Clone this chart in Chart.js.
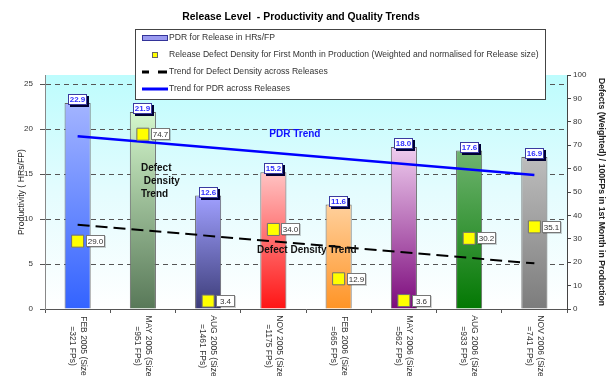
<!DOCTYPE html>
<html>
<head>
<meta charset="utf-8">
<script src="https://cdn.jsdelivr.net/npm/chart.js@4"></script>
<style>
  html, body { margin: 0; padding: 0; background: #ffffff; }
  #wrap { width: 612px; height: 376px; position: relative; }
</style>
</head>
<body>
<div id="wrap"><canvas id="chart"></canvas></div>
<script>
const FONT = "'Liberation Sans', Arial, sans-serif";

// Releases and their sizes (function points)
const releases = ['FEB 2005', 'MAY 2005', 'AUG 2005', 'NOV 2005', 'FEB 2006', 'MAY 2006', 'AUG 2006', 'NOV 2006'];
const releaseSizes = [321, 951, 1461, 1175, 665, 562, 933, 741];

// PDR per release (hours per function point) - left axis
const pdrValues = [22.9, 21.9, 12.6, 15.2, 11.6, 18.0, 17.6, 16.9];

// Defect density in first month of production - right axis
const defectDensity = [29.0, 74.7, 3.4, 34.0, 12.9, 3.6, 30.2, 35.1];

// Trend line end points (first and last release)
const pdrTrend = [19.2, null, null, null, null, null, null, 14.9];
const defectTrend = [36.0, null, null, null, null, null, null, 19.5];

// Axis ranges and tick steps
const leftAxis = { min: 0, max: 26, step: 5 };
const rightAxis = { min: 0, max: 100, step: 10 };

// Per-bar gradient colours (top -> bottom)
const barTopColors = ['#a3b4ff', '#d4f7cc', '#a0a0ff', '#ffc4c4', '#ffd09c', '#efcdef', '#70b470', '#bdbdbd'];
const barBottomColors = ['#3363ff', '#587858', '#3c3c78', '#ff1414', '#ff9426', '#7c0a7c', '#037803', '#7c7c7c'];

const chartTitle = 'Release Level  - Productivity and Quality Trends';
const legendItems = [
  'PDR for Release in HRs/FP',
  'Release Defect Density for First Month in Production (Weighted and normalised for Release size)',
  'Trend for Defect Density across Releases',
  'Trend for PDR across Releases'
];

// Free text annotations: [text lines, category position, left-axis value]
const annotations = [
  { lines: ['PDR Trend'], x: 3.33, y: 19.4, color: '#1010ff', align: 'center' },
  { lines: ['Defect', ' Density', 'Trend'], x: 0.97, y: 15.6, color: '#111111', align: 'left' },
  { lines: ['Defect Density Trend'], x: 2.75, y: 6.5, color: '#111111', align: 'left' }
];

const categoryLabels = releases.map((r, i) => [r + ' (Size', '=' + releaseSizes[i] + ' FPs)']);

// Gradient fill for plot area
const plotBackground = {
  id: 'plotBackground',
  beforeDraw(chart) {
    const { ctx, chartArea: a } = chart;
    const g = ctx.createLinearGradient(0, a.top, 0, a.bottom);
    g.addColorStop(0, '#bdfcfd');
    g.addColorStop(0.5, '#e4fcfe');
    g.addColorStop(1, '#ffffff');
    ctx.save();
    ctx.fillStyle = g;
    ctx.fillRect(a.left, a.top, a.width, a.height);
    ctx.restore();
  }
};

// Value boxes for bars and defect markers, plus text annotations
const valueLabels = {
  id: 'valueLabels',
  afterDatasetsDraw(chart) {
    const { ctx, scales } = chart;
    ctx.save();
    // bar value boxes
    const bars = chart.getDatasetMeta(0).data;
    ctx.font = `bold 8px ${FONT}`;
    ctx.textAlign = 'center';
    ctx.textBaseline = 'middle';
    bars.forEach((bar, i) => {
      const w = 19, h = 11;
      const x = Math.round(bar.x - w / 2), y = Math.round(bar.y - h + 2);
      ctx.fillStyle = '#000033';
      ctx.fillRect(x + 2, y + 2, w, h);
      ctx.fillStyle = '#ffffff';
      ctx.fillRect(x, y, w, h);
      ctx.strokeStyle = '#3a3aa0';
      ctx.lineWidth = 1;
      ctx.strokeRect(x + 0.5, y + 0.5, w - 1, h - 1);
      ctx.fillStyle = '#3030ff';
      ctx.fillText(pdrValues[i].toFixed(1), x + w / 2, y + h / 2 + 0.5);
    });
    // defect marker value boxes
    const pts = chart.getDatasetMeta(3).data;
    ctx.font = `8px ${FONT}`;
    pts.forEach((p, i) => {
      const w = 19, h = 12;
      const x = Math.round(p.x + 8), y = Math.round(p.y - h / 2);
      ctx.fillStyle = 'rgba(0,0,0,0.18)';
      ctx.fillRect(x + 1, y + 1, w, h);
      ctx.fillStyle = '#ffffff';
      ctx.fillRect(x, y, w, h);
      ctx.strokeStyle = '#777777';
      ctx.strokeRect(x + 0.5, y + 0.5, w - 1, h - 1);
      ctx.fillStyle = '#333333';
      ctx.fillText(defectDensity[i].toFixed(1), x + w / 2, y + h / 2 + 0.5);
    });
    // annotations
    ctx.font = `bold 10px ${FONT}`;
    annotations.forEach(a => {
      const x = scales.x.getPixelForValue(a.x);
      const y = scales.y.getPixelForValue(a.y);
      ctx.fillStyle = a.color;
      ctx.textAlign = a.align;
      a.lines.forEach((line, k) => ctx.fillText(line, x, y + k * 13));
    });
    ctx.restore();
  }
};

// Rotated two-line category labels, title and legend box
const frame = {
  id: 'frame',
  afterDraw(chart) {
    const { ctx, scales, chartArea: a } = chart;
    ctx.save();
    // category labels, reading top to bottom
    ctx.font = `8.5px ${FONT}`;
    ctx.fillStyle = '#333333';
    ctx.textAlign = 'center';
    ctx.textBaseline = 'middle';
    categoryLabels.forEach((lines, i) => {
      const x = scales.x.getPixelForValue(i);
      ctx.save();
      ctx.translate(x, a.bottom + 37);
      ctx.rotate(Math.PI / 2);
      ctx.fillText(lines[0], 0, -5.5);
      ctx.fillText(lines[1], 0, 5.5);
      ctx.restore();
    });
    // title
    ctx.font = `bold 10.4px ${FONT}`;
    ctx.fillStyle = '#000000';
    ctx.fillText(chartTitle, 301, 17);
    // legend box
    const bx = 135, by = 29, bw = 410, bh = 70;
    ctx.fillStyle = '#ffffff';
    ctx.fillRect(bx, by, bw, bh);
    ctx.strokeStyle = '#444444';
    ctx.lineWidth = 1;
    ctx.strokeRect(bx + 0.5, by + 0.5, bw, bh);
    const rowY = [38, 55, 72, 89];
    // bar swatch
    ctx.fillStyle = '#9a9af0';
    ctx.fillRect(142, rowY[0] - 2, 25, 4);
    ctx.strokeStyle = '#333399';
    ctx.strokeRect(142.5, rowY[0] - 2.5, 25, 5);
    // marker swatch
    ctx.fillStyle = '#ffff00';
    ctx.fillRect(152, rowY[1] - 3, 6, 6);
    ctx.strokeStyle = '#666666';
    ctx.strokeRect(152.5, rowY[1] - 2.5, 5, 5);
    // dashed trend swatch
    ctx.strokeStyle = '#000000';
    ctx.lineWidth = 3;
    ctx.beginPath();
    ctx.moveTo(142, rowY[2]); ctx.lineTo(149, rowY[2]);
    ctx.moveTo(158, rowY[2]); ctx.lineTo(167, rowY[2]);
    ctx.stroke();
    // solid trend swatch
    ctx.strokeStyle = '#0000ff';
    ctx.beginPath();
    ctx.moveTo(142, rowY[3]); ctx.lineTo(168, rowY[3]);
    ctx.stroke();
    ctx.font = `8.6px ${FONT}`;
    ctx.fillStyle = '#333333';
    ctx.textAlign = 'left';
    legendItems.forEach((t, k) => ctx.fillText(t, 169, rowY[k]));
    ctx.restore();
  }
};

new Chart(document.getElementById('chart'), {
  data: {
    labels: releases,
    datasets: [
      {
        type: 'bar',
        label: legendItems[0],
        data: pdrValues,
        yAxisID: 'y',
        order: 3,
        barPercentage: 0.4,
        categoryPercentage: 1,
        borderColor: '#666666',
        borderWidth: 1,
        backgroundColor(ctx) {
          const i = ctx.dataIndex;
          const { chartArea, scales } = ctx.chart;
          if (i === undefined) return barBottomColors[0];
          if (!chartArea || !scales.y) return barBottomColors[i];
          const g = ctx.chart.ctx.createLinearGradient(0, scales.y.getPixelForValue(pdrValues[i]), 0, scales.y.getPixelForValue(0));
          g.addColorStop(0, barTopColors[i]);
          g.addColorStop(1, barBottomColors[i]);
          return g;
        }
      },
      {
        type: 'line',
        label: legendItems[3],
        data: pdrTrend,
        yAxisID: 'y',
        order: 2,
        spanGaps: true,
        borderColor: '#0000ff',
        borderWidth: 2.5,
        pointRadius: 0,
        fill: false
      },
      {
        type: 'line',
        label: legendItems[2],
        data: defectTrend,
        yAxisID: 'y1',
        order: 1,
        spanGaps: true,
        borderColor: '#000000',
        borderWidth: 2,
        borderDash: [12, 6],
        pointRadius: 0,
        fill: false
      },
      {
        type: 'line',
        label: legendItems[1],
        data: defectDensity,
        yAxisID: 'y1',
        order: 0,
        showLine: false,
        pointStyle: 'rect',
        pointRadius: 8.5,
        pointBackgroundColor: '#ffff00',
        pointBorderColor: '#707070',
        pointBorderWidth: 1
      }
    ]
  },
  options: {
    responsive: true,
    maintainAspectRatio: false,
    animation: false,
    events: [],
    layout: { padding: { top: 75, left: 0, right: 0, bottom: 0 } },
    plugins: {
      legend: { display: false },
      title: { display: false },
      tooltip: { enabled: false }
    },
    scales: {
      x: {
        type: 'category',
        offset: true,
        grid: { offset: true, drawOnChartArea: false, tickLength: 4, color: '#555555' },
        border: { color: '#555555' },
        ticks: { display: false },
        afterFit(s) { s.height = 67; }
      },
      y: {
        type: 'linear',
        position: 'left',
        min: leftAxis.min,
        max: leftAxis.max,
        ticks: { stepSize: leftAxis.step, includeBounds: false, color: '#333333', padding: 7, font: { family: FONT, size: 8 } },
        grid: { color: '#555555', tickLength: 5 },
        border: { color: '#888888', dash: [5, 4] },
        title: { display: true, text: 'Productivity ( HRs/FP)', color: '#222222', padding: { top: 16, bottom: 0 }, font: { family: FONT, size: 8.7 } },
        afterFit(s) { s.width = 45; }
      },
      y1: {
        type: 'linear',
        position: 'right',
        min: rightAxis.min,
        max: rightAxis.max,
        ticks: { stepSize: rightAxis.step, color: '#333333', padding: 2, font: { family: FONT, size: 8 } },
        grid: { drawOnChartArea: false, tickLength: 4, color: '#444444' },
        border: { color: '#444444' },
        title: { display: true, text: 'Defects (Weighted) / 100FPs in 1st Month in Production', color: '#222222', padding: { top: 5, bottom: 0 }, font: { family: FONT, size: 8.7, weight: 'bold' } },
        afterFit(s) { s.width = 45; }
      }
    }
  },
  plugins: [plotBackground, valueLabels, frame]
});
</script>
</body>
</html>
